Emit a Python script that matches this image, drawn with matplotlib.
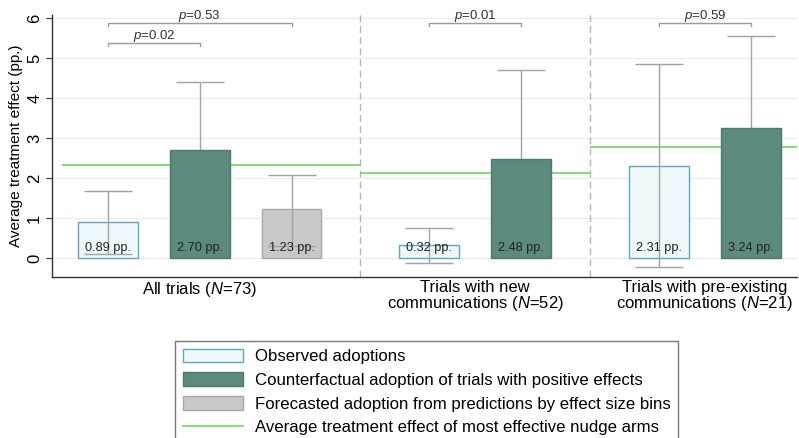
import matplotlib
matplotlib.use("Agg")
import matplotlib.pyplot as plt
from matplotlib.patches import Patch
from matplotlib.lines import Line2D
import numpy as np

plt.rcParams['font.family'] = ['Liberation Sans', 'DejaVu Sans']
plt.rcParams['mathtext.fontset'] = 'custom'
plt.rcParams['mathtext.rm'] = 'Liberation Sans'
plt.rcParams['mathtext.it'] = 'Liberation Sans:italic'

# groups of trials
group_labels = ['All trials ($\\it{N}$=73)',
                'Trials with new\ncommunications ($\\it{N}$=52)',
                'Trials with pre-existing\ncommunications ($\\it{N}$=21)']

# observed adoptions (one per group)
obs_vals = [0.89, 0.32, 2.31]
obs_lo = [0.10, -0.13, -0.22]
obs_hi = [1.68, 0.74, 4.84]

# counterfactual adoption of trials with positive effects (one per group)
cf_vals = [2.70, 2.48, 3.24]
cf_lo = [0.99, 0.25, 0.92]
cf_hi = [4.41, 4.71, 5.56]

# forecasted adoption (all trials only)
fc_vals = [1.23]
fc_lo = [0.30]
fc_hi = [2.07]

# average treatment effect of most effective nudge arms
ate_vals = [2.33, 2.13, 2.78]

# p-values for comparisons: (group, left bar, right bar, p)
p_tests = [(0, 0, 1, '0.02'), (0, 0, 2, '0.53'), (1, 0, 1, '0.01'), (2, 0, 1, '0.59')]

c_obs_face, c_obs_edge = '#eef8fb', '#5aaabb'
c_cf_face, c_cf_edge = '#5b8a7f', '#4c7a6f'
c_fc_face, c_fc_edge = '#c8c8c8', '#a8a8a8'
c_green = '#6ada5a'
c_err = '#a3a3a3'

# bar layout: bars 1 apart, groups separated by an extra half step
n_bars = [3, 2, 2]
starts = [0.0]
for n in n_bars[:-1]:
    starts.append(starts[-1] + n + 0.5)
starts = np.array(starts)
x_obs = starts
x_cf = starts + 1
x_fc = starts[:1] + 2
bounds = [-0.5] + [s - 0.75 for s in starts[1:]] + [7.5]
width = 0.65

fig = plt.figure(figsize=(7.99, 4.38), dpi=100)
ax = fig.add_axes([0.065, 0.3676, 0.932, 0.598])

for yv in range(0, 7):
    ax.axhline(yv, color='#ebebeb', lw=0.8, zorder=0)

ax.bar(x_obs, obs_vals, width, color=c_obs_face, edgecolor=c_obs_edge, lw=1, zorder=1)
ax.bar(x_fc, fc_vals, width, color=c_fc_face, edgecolor=c_fc_edge, lw=1, zorder=1)

for i in range(3):
    ax.hlines(ate_vals[i], bounds[i], bounds[i + 1], color=c_green, lw=1.2, zorder=1.5)

ax.errorbar(x_obs, obs_vals, yerr=[np.subtract(obs_vals, obs_lo), np.subtract(obs_hi, obs_vals)],
            fmt='none', ecolor=c_err, elinewidth=1, capsize=17, capthick=1, zorder=2)
ax.errorbar(x_fc, fc_vals, yerr=[np.subtract(fc_vals, fc_lo), np.subtract(fc_hi, fc_vals)],
            fmt='none', ecolor=c_err, elinewidth=1, capsize=17, capthick=1, zorder=2)
ax.errorbar(x_cf, cf_vals, yerr=[np.subtract(cf_vals, cf_lo), np.subtract(cf_hi, cf_vals)],
            fmt='none', ecolor=c_err, elinewidth=1, capsize=17, capthick=1, zorder=2)
ax.bar(x_cf, cf_vals, width, color=c_cf_face, edgecolor=c_cf_edge, lw=1, zorder=3)

# value labels near the bottom of each bar
for xs, vs in [(x_obs, obs_vals), (x_cf, cf_vals), (x_fc, fc_vals)]:
    for x, v in zip(xs, vs):
        ax.text(x, 0.26, '%.2f pp.' % v, ha='center', va='center', fontsize=9.2,
                color='#222222', zorder=4)

# group separators
for b in bounds[1:-1]:
    ax.axvline(b, color='#b5b5b5', lw=1, ls=(0, (5, 3)), zorder=0.5)

# p-value brackets
for g, a, b, p in p_tests:
    xa, xb = starts[g] + a, starts[g] + b
    lvl = 5.38 if (b - a == 1 and g == 0) else 5.88
    ax.plot([xa, xa, xb, xb], [lvl - 0.08, lvl, lvl, lvl - 0.08], color='#9a9a9a',
            lw=1, clip_on=False, zorder=2)
    ax.text((xa + xb) / 2, lvl + 0.17, '$\\it{p}$=' + p, ha='center', va='center',
            fontsize=9.5, color='#333333', clip_on=False)

ax.set_xlim(-0.61, 7.5)
ax.set_ylim(-0.475, 6.075)
ax.set_yticks(range(0, 7))
ax.set_yticklabels([str(v) for v in range(0, 7)], rotation=90, va='center', fontsize=12)
ax.tick_params(axis='y', length=4, width=0.8, color='#333333', pad=3)
centers = [(starts[i] + starts[i] + n_bars[i] - 1) / 2 for i in range(3)]
ax.set_xticks(centers)
ax.set_xticklabels(group_labels, fontsize=12, va='top', linespacing=0.95)
ax.tick_params(axis='x', length=0, pad=2)
ax.set_ylabel('Average treatment effect (pp.)', fontsize=11, labelpad=3)

for s in ['top', 'right']:
    ax.spines[s].set_visible(False)
for s in ['left', 'bottom']:
    ax.spines[s].set_color('#333333')
    ax.spines[s].set_linewidth(1)

handles = [
    Patch(facecolor=c_obs_face, edgecolor=c_obs_edge, lw=1),
    Patch(facecolor=c_cf_face, edgecolor=c_cf_edge, lw=1),
    Patch(facecolor=c_fc_face, edgecolor=c_fc_edge, lw=1),
    Line2D([0], [0], color=c_green, lw=1.2),
]
labels = ['Observed adoptions',
          'Counterfactual adoption of trials with positive effects',
          'Forecasted adoption from predictions by effect size bins',
          'Average treatment effect of most effective nudge arms']
leg = fig.legend(handles, labels, loc='upper left', bbox_to_anchor=(0.219, 0.2215),
                 fontsize=12.1, frameon=True, fancybox=False, handlelength=3.6,
                 handleheight=0.9, handletextpad=0.72, labelspacing=0.47,
                 borderpad=0.45, borderaxespad=0)
leg.get_frame().set_edgecolor('#555555')
leg.get_frame().set_linewidth(1)

fig.savefig('out.png', dpi=100)
